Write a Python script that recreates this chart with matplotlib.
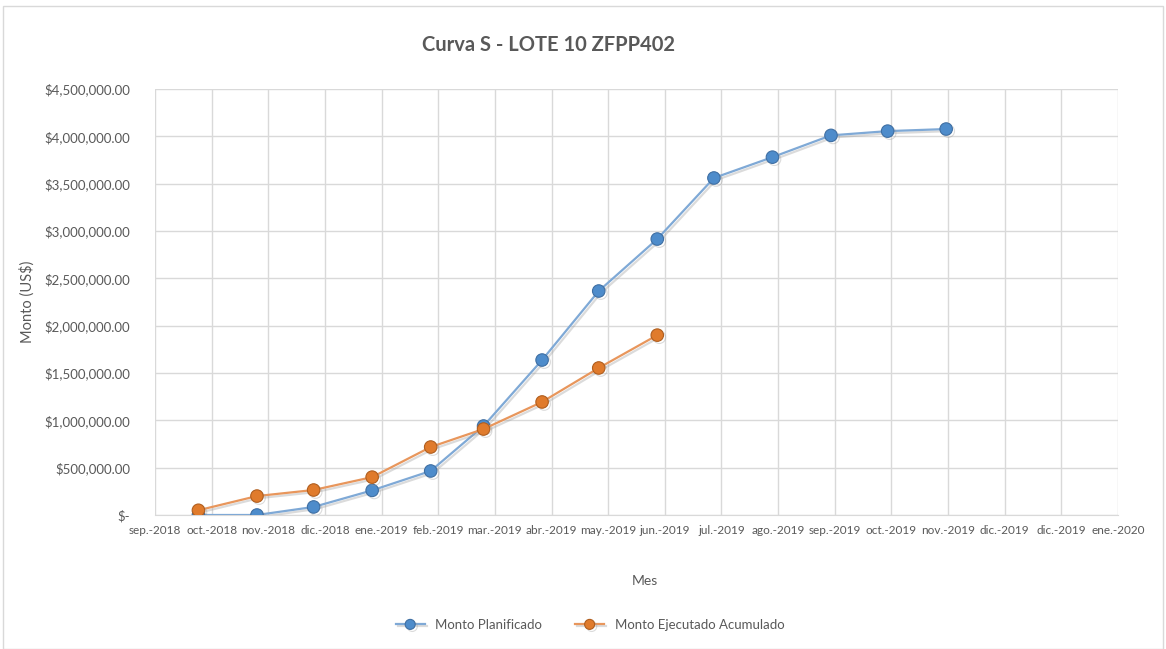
import numpy as np
import matplotlib
matplotlib.use("Agg")
import matplotlib.pyplot as plt
import matplotlib.patheffects as pe
from matplotlib.patches import Rectangle
from matplotlib.ticker import FuncFormatter
import datetime as dt

# ---------------- data ----------------
planned_dates = ["2018-09-30", "2018-10-31", "2018-11-30", "2018-12-31", "2019-01-31",
                 "2019-02-28", "2019-03-31", "2019-04-30", "2019-05-31", "2019-06-30",
                 "2019-07-31", "2019-08-31", "2019-09-30", "2019-10-31"]
planned_values = [0, 0, 85000, 260000, 465000, 940000, 1637000, 2366000, 2915000,
                  3560000, 3780000, 4010000, 4055000, 4077000]

executed_dates = ["2018-09-30", "2018-10-31", "2018-11-30", "2018-12-31", "2019-01-31",
                  "2019-02-28", "2019-03-31", "2019-04-30", "2019-05-31"]
executed_values = [50000, 200000, 264000, 400000, 718000, 908000, 1194000, 1553000, 1900000]

tick_labels = ["sep.-2018", "oct.-2018", "nov.-2018", "dic.-2018", "ene.-2019", "feb.-2019",
               "mar.-2019", "abr.-2019", "may.-2019", "jun.-2019", "jul.-2019", "ago.-2019",
               "sep.-2019", "oct.-2019", "nov.-2019", "dic.-2019", "dic.-2019", "ene.-2020"]
axis_start = "2018-09-07"
axis_step_days = 30

title = "Curva S - LOTE 10 ZFPP402"
series_names = ["Monto Planificado", "Monto Ejecutado Acumulado"]

# ---------------- plotting ----------------
plt.rcParams['font.family'] = ['Lato', 'DejaVu Sans']

def to_num(s):
    d = dt.date.fromisoformat(s)
    return (d - dt.date.fromisoformat(axis_start)).days

px = np.array([to_num(d) for d in planned_dates])
ex = np.array([to_num(d) for d in executed_dates])
ticks = np.arange(len(tick_labels)) * axis_step_days

fig = plt.figure(figsize=(11.66, 6.49), dpi=100)
fig.patches.append(Rectangle((3/1166, 0.0), 1160/1166, 1 - 6/649, transform=fig.transFigure,
                             fill=False, edgecolor="#D9D9D9", linewidth=1.0))
ax = fig.add_axes([155/1166, 1 - 515/649, (1118 - 155)/1166, (515 - 89)/649])

grey = "#595959"
blue_line = "#7FA9D6"
orange_line = "#E8965C"
shadow = [pe.SimpleLineShadow(offset=(1.5, -1.5), shadow_color="#999999", alpha=0.35), pe.Normal()]

ax.plot(px, planned_values, color=blue_line, lw=1.6, marker="o", markersize=9,
        markerfacecolor="#4E8CCB", markeredgecolor="#3F6FA3", markeredgewidth=0.8,
        label=series_names[0], path_effects=shadow, zorder=3)
ax.plot(ex, executed_values, color=orange_line, lw=1.6, marker="o", markersize=9,
        markerfacecolor="#E07B2C", markeredgecolor="#B05E1E", markeredgewidth=0.8,
        label=series_names[1], path_effects=shadow, zorder=4)

ax.set_xlim(ticks[0], ticks[-1])
ax.set_ylim(0, 4500000)
ax.set_xticks(ticks)
ax.set_xticklabels(tick_labels)
ax.set_yticks(np.arange(0, 4500001, 500000))

def fmt(v, pos):
    if v == 0:
        return "$-"
    return "${:,.2f}".format(v)
ax.yaxis.set_major_formatter(FuncFormatter(fmt))

ax.grid(True, color="#D9D9D9", linewidth=1.0)
ax.set_axisbelow(True)
for s in ["top", "right", "left"]:
    ax.spines[s].set_visible(False)
ax.spines["bottom"].set_color("#D9D9D9")
ax.tick_params(axis="both", length=0, colors=grey)
ax.tick_params(axis="x", pad=7, labelsize=8.5)
ax.tick_params(axis="y", pad=18, labelsize=9.5)

ax.set_ylabel("Monto (US$)", color=grey, fontsize=10.5)
ax.yaxis.set_label_coords((35 - 155) / 963, 0.5)
ax.set_xlabel("Mes", color=grey, fontsize=10)
ax.xaxis.set_label_coords((645 - 155) / 963, (515 - 575) / 426)

fig.text(549/1166, 1 - 45/649, title, ha="center", va="center", fontsize=14.5,
         color="#595959", fontweight="bold")

leg = fig.legend(loc="center", bbox_to_anchor=(590/1166, 1 - 625/649), ncol=2,
                 frameon=False, fontsize=9.5, handlelength=2.2, columnspacing=2.5,
                 markerscale=0.8)
for t in leg.get_texts():
    t.set_color(grey)

fig.savefig("out.png", dpi=100)
